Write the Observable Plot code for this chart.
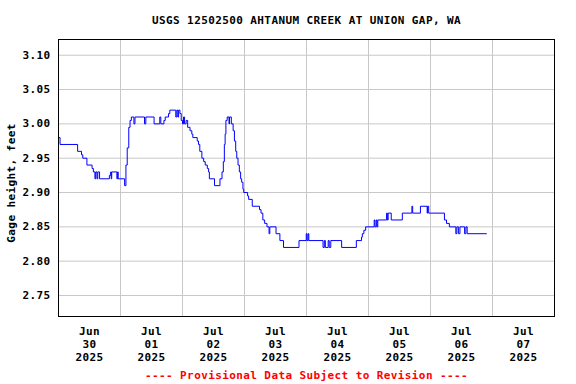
<!DOCTYPE html>
<html>
<head>
<meta charset="utf-8">
<script src="https://cdn.jsdelivr.net/npm/d3@7"></script>
<script src="https://cdn.jsdelivr.net/npm/@observablehq/plot@0.6"></script>
<style>
  html, body { margin: 0; padding: 0; background: white; }
</style>
</head>
<body>
<div id="chart"></div>
<script>
// Title / labels
const titleText = "USGS 12502500 AHTANUM CREEK AT UNION GAP, WA";
const yLabel = "Gage height, feet";
const captionText = "---- Provisional Data Subject to Revision ----";

// Hours since 2025-06-30 00:00 where the gage reading changes
const hours = [
  0.0, 0.6, 7.4, 8.9, 9.4, 11.0, 13.0, 13.5, 14.1, 14.4, 14.9, 15.2, 15.9, 19.7, 20.2, 20.4, 20.6, 22.6, 22.9, 23.1,
  25.6, 26.1, 26.6, 27.2, 27.7, 28.2, 29.2, 29.6, 33.3, 33.8, 37.0, 39.2, 39.6, 40.8, 41.3, 42.6, 43.1, 45.4, 45.8, 46.2,
  46.5, 47.0, 47.5, 48.0, 48.4, 48.8, 49.4, 50.0, 50.9, 51.6, 52.0, 53.7, 54.2, 54.7, 55.5, 56.2, 56.8, 57.6, 58.1, 58.4,
  60.4, 62.5, 63.3, 63.8, 64.2, 64.5, 64.8, 65.3, 66.0, 66.2, 66.9, 67.6, 68.1, 68.6, 69.0, 69.5, 70.0, 70.5, 70.9, 71.4,
  71.7, 73.2, 73.6, 75.0, 77.8, 78.4, 79.1, 79.8, 80.7, 81.5, 81.8, 84.2, 85.7, 87.1, 93.1, 95.9, 96.2, 96.6, 96.9, 102.4,
  102.9, 103.3, 104.4, 104.8, 105.4, 109.6, 115.3, 117.3, 117.6, 118.2, 118.9, 122.2, 122.5, 123.0, 123.3, 123.6, 127.0, 127.3, 127.6, 128.8,
  133.1, 136.8, 137.1, 140.1, 142.7, 142.9, 143.3, 149.4, 150.2, 151.3, 153.8, 154.2, 154.8, 155.4, 157.2, 157.7, 158.2, 165.7
];
const gage = [
  2.98, 2.97, 2.96, 2.955, 2.95, 2.94, 2.935, 2.93, 2.92, 2.93, 2.92, 2.93, 2.92, 2.925, 2.93, 2.92, 2.93, 2.92, 2.93, 2.92,
  2.91, 2.94, 2.965, 2.995, 3.005, 3.01, 3.00, 3.01, 3.00, 3.01, 3.00, 3.01, 3.00, 3.005, 3.01, 3.015, 3.02, 3.01, 3.02, 3.01,
  3.02, 3.015, 3.005, 3.00, 3.01, 3.00, 3.005, 2.995, 2.99, 2.985, 2.98, 2.975, 2.97, 2.96, 2.95, 2.945, 2.94, 2.935, 2.93, 2.92,
  2.91, 2.92, 2.93, 2.945, 2.97, 2.985, 3.005, 3.01, 3.00, 3.01, 3.00, 2.99, 2.975, 2.96, 2.95, 2.94, 2.93, 2.92, 2.915, 2.905,
  2.90, 2.895, 2.89, 2.88, 2.875, 2.87, 2.86, 2.855, 2.85, 2.84, 2.85, 2.84, 2.83, 2.82, 2.83, 2.84, 2.83, 2.84, 2.83, 2.82,
  2.83, 2.82, 2.83, 2.82, 2.83, 2.82, 2.83, 2.835, 2.84, 2.845, 2.85, 2.86, 2.85, 2.86, 2.85, 2.86, 2.87, 2.86, 2.87, 2.86,
  2.87, 2.88, 2.87, 2.88, 2.87, 2.88, 2.87, 2.86, 2.855, 2.85, 2.84, 2.85, 2.84, 2.85, 2.84, 2.85, 2.84, 2.84
];

// Axis ticks
const yTicks = [2.75, 2.80, 2.85, 2.90, 2.95, 3.00, 3.05, 3.10];
const dayLabels = ["2025-06-30", "2025-07-01", "2025-07-02", "2025-07-03", "2025-07-04", "2025-07-05", "2025-07-06", "2025-07-07"];
const dayBounds = ["2025-07-01", "2025-07-02", "2025-07-03", "2025-07-04", "2025-07-05", "2025-07-06", "2025-07-07"];
const xStart = "2025-06-30";
const xEnd = "2025-07-08";
const yMin = 2.7194, yMax = 3.1229;

const startMs = Date.parse(xStart + "T00:00:00Z");
const data = hours.map((h, i) => ({t: new Date(startMs + h * 3600e3), v: gage[i]}));
const noons = dayLabels.map(d => new Date(Date.parse(d + "T12:00:00Z")));
const mids = dayBounds.map(d => new Date(Date.parse(d + "T00:00:00Z")));

const font = "'DejaVu Sans Mono', monospace";

const chart = Plot.plot({
  width: 576,
  height: 384,
  marginLeft: 58,
  marginRight: 22,
  marginTop: 39,
  marginBottom: 68,
  style: {fontFamily: font, fontWeight: "bold", fontSize: "11px", background: "white", color: "black", letterSpacing: "0.4px"},
  x: {type: "utc", domain: [new Date(xStart + "T00:00:00Z"), new Date(xEnd + "T00:00:00Z")]},
  y: {domain: [yMin, yMax]},
  marks: [
    Plot.gridX(mids, {stroke: "#c8c8c8", strokeOpacity: 1}),
    Plot.gridY(yTicks, {stroke: "#c8c8c8", strokeOpacity: 1}),
    Plot.axisY(yTicks, {tickSize: 0, tickPadding: 8, tickFormat: d => d.toFixed(2), label: null}),
    Plot.axisX(noons, {tickSize: 0, tickPadding: 9, tickFormat: d3.utcFormat("%b\n%d\n%Y"), lineHeight: 1.18, label: null}),
    Plot.line(data, {x: "t", y: "v", curve: "step-after", stroke: "#0000ff", strokeWidth: 1}),
    Plot.frame({stroke: "black"}),
    Plot.text([yLabel], {frameAnchor: "left", textAnchor: "middle", rotate: -90, dx: -47, dy: 5, fill: "black"}),
    Plot.text([titleText], {frameAnchor: "top", dy: -19, lineAnchor: "middle", fill: "black"}),
    Plot.text([captionText], {frameAnchor: "bottom", dy: 59, lineAnchor: "middle", fill: "#ff0000"})
  ]
});
document.getElementById("chart").appendChild(chart);
</script>
</body>
</html>
